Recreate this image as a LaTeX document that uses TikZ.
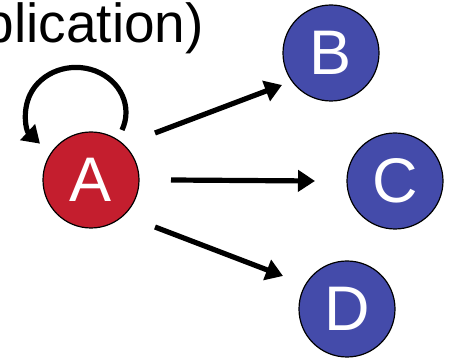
\documentclass[tikz,border=0pt]{standalone}
\usepackage{fontspec}
\setmainfont{Liberation Sans}
\usepackage{tikz}
\usetikzlibrary{arrows.meta,positioning}
\definecolor{nodered}{RGB}{196,30,46}
\definecolor{nodeblue}{RGB}{68,75,170}
\tikzstyle{vertex} = [circle, minimum size=96pt, inner sep=0pt, draw=black, line width=1.2pt, text=white, font=\fontsize{63}{63}\selectfont]
\tikzstyle{arrow} = [line width=5.2pt, -{Triangle[length=17pt,width=21pt]}, color=black]

\begin{document}
\begin{tikzpicture}[x=1pt, y=1pt]
\useasboundingbox (0,0) rectangle (450,358);
% Title (runs off the left edge)
\node (title) [anchor=base east, inner sep=0pt, font=\fontsize{55}{55}\selectfont] at (204,315) {plication)};

% Nodes
\node (A) [vertex, fill=nodered] at (91,178) {A};
\node (B) [vertex, fill=nodeblue] at (331,305) {B};
\node (C) [vertex, fill=nodeblue] at (395,177) {C};
\node (D) [vertex, fill=nodeblue] at (347,49) {D};

% Self loop on A
\coordinate (loopstart) at ([shift={(31,50)}]A.center);
\draw[arrow] (loopstart) arc[start angle=-23, end angle=224, x radius=50, y radius=45];

% Arrows out of A
\draw[arrow] ([shift={(64,47)}]A.center) -- ([shift={(-49,-32)}]B.center);
\draw[arrow] ([shift={(80,0)}]A.center) -- ([shift={(-80,0)}]C.center);
\draw[arrow] ([shift={(64,-47)}]A.center) -- ([shift={(-64,33)}]D.center);
\end{tikzpicture}
\end{document}
